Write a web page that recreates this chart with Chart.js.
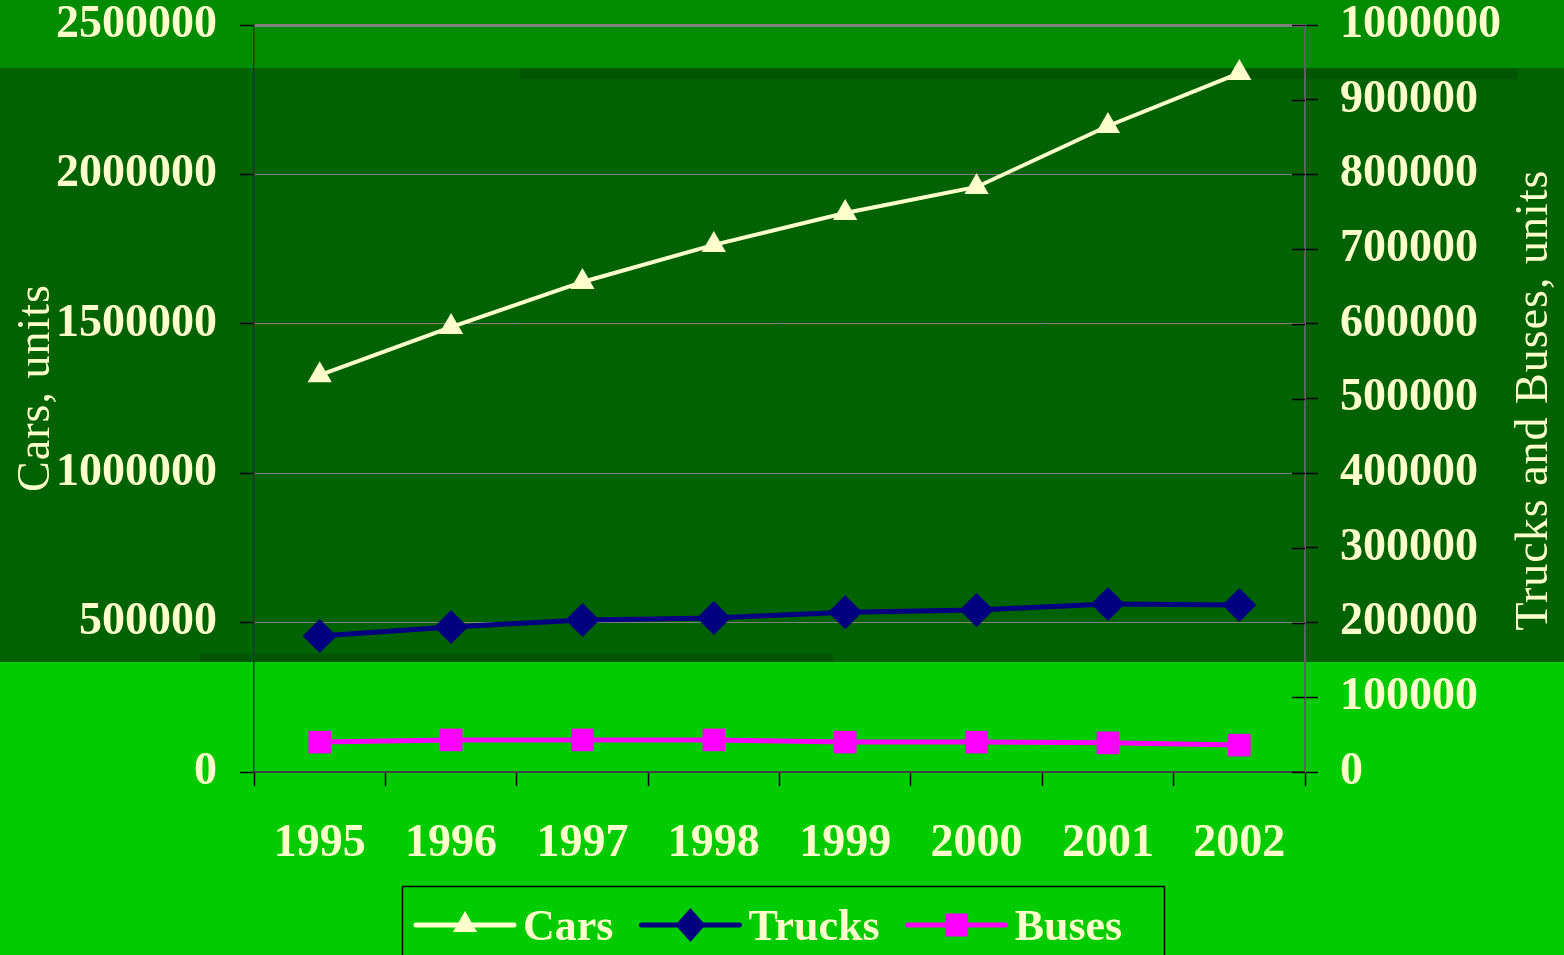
<!DOCTYPE html>
<html>
<head>
<meta charset="utf-8">
<script src="https://cdn.jsdelivr.net/npm/chart.js@4.4.1/dist/chart.umd.min.js"></script>
<style>
html,body{margin:0;padding:0;background:#00cc00;}
#wrap{position:relative;width:1564px;height:955px;}
</style>
</head>
<body>
<div id="wrap"><canvas id="c" width="1564" height="955"></canvas></div>
<script>
const years = ['1995','1996','1997','1998','1999','2000','2001','2002'];
const cars   = [1328000, 1489000, 1640000, 1764000, 1871000, 1958000, 2162000, 2339000];
const trucks = [182000, 194000, 203500, 206000, 214000, 217000, 225000, 223500];
const buses  = [40000, 43000, 43000, 43000, 40000, 40000, 39000, 36000];
const leftTicks  = [0, 500000, 1000000, 1500000, 2000000, 2500000];
const rightTicks = [0, 100000, 200000, 300000, 400000, 500000, 600000, 700000, 800000, 900000, 1000000];
const seriesNames = ['Cars', 'Trucks', 'Buses'];
const leftTitle = 'Cars, units';
const rightTitle = 'Trucks and Buses, units';

const TXT = '#FFFFCC';
const FONT = '"Liberation Serif", "Times New Roman", serif';

const bgPlugin = {
  id: 'bg',
  beforeDraw(chart) {
    const ctx = chart.ctx;
    ctx.save();
    ctx.fillStyle = '#00cc00'; ctx.fillRect(0, 0, 1564, 955);
    ctx.fillStyle = '#008c00'; ctx.fillRect(0, 0, 1564, 68);
    ctx.fillStyle = '#006200'; ctx.fillRect(0, 68, 1564, 594);
    ctx.fillStyle = '#005600'; ctx.fillRect(520, 69, 998, 10);
    ctx.fillStyle = '#005600'; ctx.fillRect(200, 653, 633, 9);
    ctx.restore();
  }
};

function drawMarker(ctx, style, x, y, color) {
  ctx.fillStyle = color;
  ctx.beginPath();
  if (style === 'triangle') {
    const r = 14;
    ctx.moveTo(x, y - r);
    ctx.lineTo(x + 0.866 * r, y + r / 2);
    ctx.lineTo(x - 0.866 * r, y + r / 2);
  } else if (style === 'rectRot') {
    ctx.moveTo(x, y - 17); ctx.lineTo(x + 15, y); ctx.lineTo(x, y + 17); ctx.lineTo(x - 15, y);
  } else {
    ctx.rect(x - 11.5, y - 11.5, 23, 23);
  }
  ctx.closePath();
  ctx.fill();
}

const decoPlugin = {
  id: 'deco',
  afterDraw(chart) {
    const ctx = chart.ctx;
    const y1 = chart.scales.y1;
    ctx.save();
    // inner tick marks of the right axis
    ctx.strokeStyle = '#000';
    ctx.lineWidth = 1.5;
    rightTicks.forEach(v => {
      const py = Math.round(y1.getPixelForValue(v)) + 0.5;
      ctx.beginPath(); ctx.moveTo(y1.left - 13, py); ctx.lineTo(y1.left, py); ctx.stroke();
    });
    // axis titles
    ctx.fillStyle = TXT;
    ctx.font = 'normal 46px ' + FONT;
    ctx.letterSpacing = '1px';
    ctx.textAlign = 'center';
    ctx.textBaseline = 'middle';
    ctx.save(); ctx.translate(37, 388); ctx.rotate(-Math.PI / 2); ctx.fillText(leftTitle, 0, 0); ctx.restore();
    ctx.save(); ctx.translate(1535, 400); ctx.rotate(-Math.PI / 2); ctx.fillText(rightTitle, 0, 0); ctx.restore();
    ctx.letterSpacing = '0px';
    // legend
    ctx.strokeStyle = '#000';
    ctx.lineWidth = 1.5;
    ctx.strokeRect(402.5, 886.5, 762, 80);
    ctx.font = 'bold 44px ' + FONT;
    ctx.textAlign = 'left';
    let x = 416;
    const cy = 925;
    chart.data.datasets.forEach(ds => {
      ctx.strokeStyle = ds.borderColor;
      ctx.lineWidth = 5;
      ctx.lineCap = 'round';
      ctx.beginPath(); ctx.moveTo(x, cy); ctx.lineTo(x + 98, cy); ctx.stroke();
      drawMarker(ctx, ds.pointStyle, x + 49, cy, ds.pointBackgroundColor);
      ctx.fillStyle = TXT;
      ctx.fillText(ds.label, x + 107, cy + 4);
      const w = ctx.measureText(ds.label).width;
      x += 107 + w + 28;
    });
    ctx.restore();
  }
};

new Chart(document.getElementById('c'), {
  type: 'line',
  data: {
    labels: years,
    datasets: [
      { label: seriesNames[0], data: cars, yAxisID: 'y', borderColor: '#FFFFCC', backgroundColor: '#FFFFCC',
        pointBackgroundColor: '#FFFFCC', pointBorderColor: '#FFFFCC', borderWidth: 4, pointStyle: 'triangle',
        pointRadius: 14, pointBorderWidth: 0, tension: 0 },
      { label: seriesNames[1], data: trucks, yAxisID: 'y1', borderColor: '#000080', backgroundColor: '#000080',
        pointBackgroundColor: '#000080', pointBorderColor: '#000080', borderWidth: 5, pointStyle: 'rectRot',
        pointRadius: 17, pointBorderWidth: 0, tension: 0 },
      { label: seriesNames[2], data: buses, yAxisID: 'y1', borderColor: '#FF00FF', backgroundColor: '#FF00FF',
        pointBackgroundColor: '#FF00FF', pointBorderColor: '#FF00FF', borderWidth: 5, pointStyle: 'rect',
        pointRadius: 16, pointBorderWidth: 0, tension: 0 }
    ]
  },
  options: {
    responsive: false,
    animation: false,
    events: [],
    layout: { padding: { top: 25, left: 0, right: 0, bottom: 0 } },
    plugins: { legend: { display: false }, tooltip: { enabled: false }, title: { display: false } },
    scales: {
      x: {
        type: 'category',
        offset: true,
        afterFit(s) { s.height = 183; s.paddingLeft = 0; s.paddingRight = 0; },
        grid: { display: true, drawOnChartArea: false, offset: true, tickLength: 14, tickColor: '#000', tickWidth: 1.5 },
        border: { display: true, color: '#404040', width: 2 },
        ticks: { color: TXT, font: { family: FONT, size: 46, weight: 'bold' }, padding: 31, maxRotation: 0, autoSkip: false }
      },
      y: {
        position: 'left',
        min: 0, max: 2500000,
        afterFit(s) { s.width = 254; s.paddingTop = 0; s.paddingBottom = 0; },
        afterBuildTicks(s) { s.ticks = leftTicks.map(v => ({ value: v })); },
        grid: {
          color: '#808080',
          lineWidth: c => (c.tick && c.tick.value === 2500000) ? 3 : 1,
          tickLength: 14, tickColor: '#000', tickWidth: 1.5
        },
        border: { display: true, color: '#303030', width: 1.5 },
        ticks: { color: TXT, font: { family: FONT, size: 46, weight: 'bold', lineHeight: 1 }, padding: 23,
                 callback: v => String(v) }
      },
      y1: {
        position: 'right',
        min: 0, max: 1000000,
        afterFit(s) { s.width = 259; s.paddingTop = 0; s.paddingBottom = 0; },
        afterBuildTicks(s) { s.ticks = rightTicks.map(v => ({ value: v })); },
        grid: { drawOnChartArea: false, tickLength: 13, tickColor: '#000', tickWidth: 1.5 },
        border: { display: true, color: '#606060', width: 2 },
        ticks: { color: TXT, font: { family: FONT, size: 46, weight: 'bold', lineHeight: 1 }, padding: 22,
                 callback: v => String(v) }
      }
    }
  },
  plugins: [bgPlugin, decoPlugin]
});
</script>
</body>
</html>
